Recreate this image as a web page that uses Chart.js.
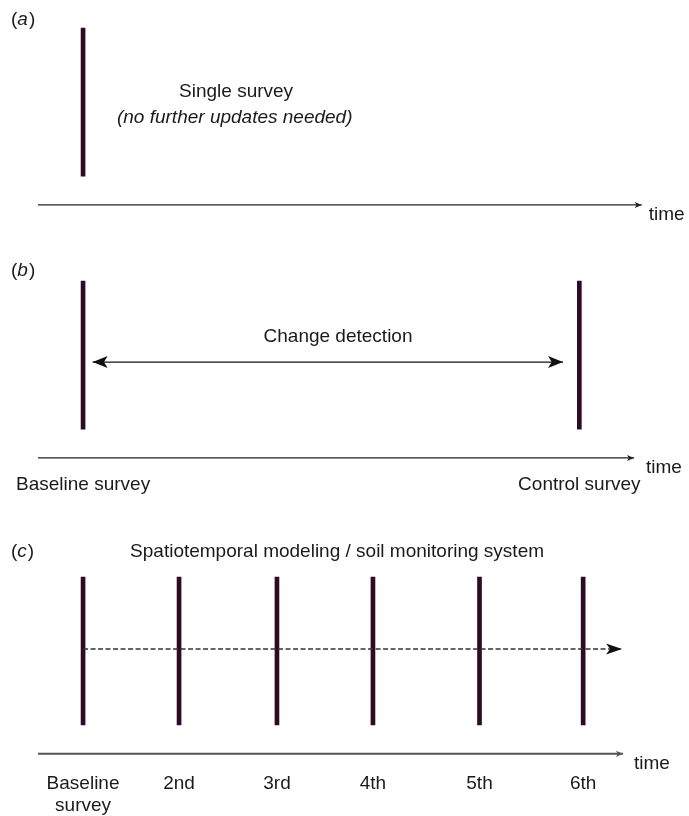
<!DOCTYPE html>
<html>
<head>
<meta charset="utf-8">
<title>Survey strategies over time</title>
<script src="https://cdn.jsdelivr.net/npm/chart.js@4.4.1/dist/chart.umd.min.js"></script>
<style>
  html, body { margin: 0; padding: 0; background: #fff; }
  #wrap { position: relative; width: 689px; height: 816px; }
</style>
</head>
<body>
<div id="wrap"><canvas id="surveyChart" width="689" height="816"></canvas></div>
<script>
// survey times, in units of one survey interval
const singleSurvey = [0];
const changeSurveys = [0, 5.17];
const changeLabels = ["Baseline survey", "Control survey"];
const monitorSurveys = [0, 1, 2.02, 3.02, 4.13, 5.21];
const monitorLabels = [["Baseline", "survey"], "2nd", "3rd", "4th", "5th", "6th"];

// time axes start at the same point, end at different arrow tips
const axisStart = -0.47;
const axisEnds = [5.82, 5.74, 5.625];
const changeSpan = [0.1, 5.0];   // double arrow in (b)
const monitorSpan = [0, 5.615];  // dashed arrow in (c)

const INK = "#1a1a1a";
const BAR = "#2c0b26";
const FONT = "'Liberation Sans', Arial, sans-serif";

// vertical layout: each survey marker is one unit tall
const panelBase = { a: 3.71, b: 2.0, c: 0 };
const axisDrop = -0.195;
const xRange = { min: -0.865, max: 6.3125 };

function surveyBars(times, base, axisID) {
  return {
    type: "bar",
    data: times.map(t => ({ x: t, y: [base, base + 1] })),
    xAxisID: axisID,
    backgroundColor: BAR,
    barThickness: 4,
    grouped: false,
    order: 1,
  };
}

function arrowLine(x0, x1, y, extra) {
  return Object.assign({
    type: "line",
    data: [{ x: x0, y: y }, { x: x1, y: y }],
    xAxisID: "x",
    borderColor: "#222",
    borderWidth: 1.3,
    pointRadius: 0,
    tension: 0,
    fill: false,
    order: 0,
  }, extra);
}

function tickAxis(times, labels, base, pad) {
  return {
    type: "linear",
    ...xRange,
    offset: false,
    position: { y: base + axisDrop },
    grid: { display: false, drawTicks: false, offset: false },
    border: { display: false },
    afterBuildTicks: s => { s.ticks = times.map(v => ({ value: v })); },
    ticks: {
      autoSkip: false,
      maxRotation: 0,
      minRotation: 0,
      padding: pad,
      color: INK,
      font: { family: FONT, size: 19, lineHeight: 1.15 },
      callback: (v, i) => labels[i],
    },
  };
}

const notes = [
  { text: "Single survey", x: 1.594, y: panelBase.a + 0.568 },
  { text: "(no further updates needed)", x: 1.58, y: panelBase.a + 0.392, italic: true },
  { text: "Change detection", x: 2.656, y: panelBase.b + 0.622 },
  { text: "Spatiotemporal modeling / soil monitoring system", x: 2.646, y: panelBase.c + 1.169 },
];
const panelTags = [
  { tag: "a", y: panelBase.a + 1.055 },
  { tag: "b", y: panelBase.b + 1.068 },
  { tag: "c", y: panelBase.c + 1.169 },
];
const timeGaps = [7, 12, 11];

function drawHead(ctx, tip, from, len, half, color) {
  const ang = Math.atan2(tip.y - from.y, tip.x - from.x);
  ctx.save();
  ctx.translate(tip.x, tip.y);
  ctx.rotate(ang);
  ctx.beginPath();
  ctx.moveTo(0, 0);
  ctx.lineTo(-len, -half);
  ctx.lineTo(-len * 0.75, 0);
  ctx.lineTo(-len, half);
  ctx.closePath();
  ctx.fillStyle = color;
  ctx.fill();
  ctx.restore();
}

const figureDecor = {
  id: "figureDecor",
  afterDatasetsDraw(chart) {
    const ctx = chart.ctx;
    const xs = chart.scales.x, ys = chart.scales.y;

    // arrowheads on the line datasets
    chart.data.datasets.forEach((ds, i) => {
      if (!ds.arrow) return;
      const pts = chart.getDatasetMeta(i).data;
      const first = pts[0], last = pts[pts.length - 1];
      const h = ds.arrow;
      if (h.end) drawHead(ctx, last, first, h.len, h.half, h.color || ds.borderColor);
      if (h.start) drawHead(ctx, first, last, h.len, h.half, h.color || ds.borderColor);
    });

    ctx.save();
    ctx.fillStyle = INK;
    ctx.textBaseline = "middle";

    ctx.textAlign = "center";
    notes.forEach(n => {
      ctx.font = (n.italic ? "italic " : "") + "19px " + FONT;
      ctx.fillText(n.text, xs.getPixelForValue(n.x), ys.getPixelForValue(n.y));
    });

    // "time" at the end of each axis
    ctx.textAlign = "left";
    ctx.font = "19px " + FONT;
    [panelBase.a, panelBase.b, panelBase.c].forEach((b, i) => {
      ctx.fillText("time", xs.getPixelForValue(axisEnds[i]) + timeGaps[i], ys.getPixelForValue(b - 0.26));
    });

    // panel tags (a) (b) (c)
    panelTags.forEach(p => {
      let x = chart.chartArea.left + 11;
      const y = ys.getPixelForValue(p.y);
      ctx.font = "19px " + FONT;
      ctx.fillText("(", x, y);
      x += ctx.measureText("(").width;
      ctx.font = "italic 19px " + FONT;
      ctx.fillText(p.tag, x, y);
      x += ctx.measureText(p.tag).width + 1;
      ctx.font = "19px " + FONT;
      ctx.fillText(")", x, y);
    });
    ctx.restore();
  },
};

const ctx = document.getElementById("surveyChart").getContext("2d");
const surveyChart = new Chart(ctx, {
  type: "bar",
  data: {
    datasets: [
      surveyBars(singleSurvey, panelBase.a, "x"),
      surveyBars(changeSurveys, panelBase.b, "xb"),
      surveyBars(monitorSurveys, panelBase.c, "xc"),
      // time axes
      arrowLine(axisStart, axisEnds[0], panelBase.a + axisDrop, { arrow: { end: true, len: 7, half: 3 } }),
      arrowLine(axisStart, axisEnds[1], panelBase.b + axisDrop, { arrow: { end: true, len: 7, half: 3 } }),
      arrowLine(axisStart, axisEnds[2], panelBase.c + axisDrop, {
        borderColor: "#555", borderWidth: 2, arrow: { end: true, len: 7, half: 3.2 },
      }),
      // change detection, both ways
      arrowLine(changeSpan[0], changeSpan[1], panelBase.b + 0.453, {
        borderColor: "#111", borderWidth: 1.3, arrow: { start: true, end: true, len: 15, half: 6 },
      }),
      // continuous monitoring
      arrowLine(monitorSpan[0], monitorSpan[1], panelBase.c + 0.514, {
        borderColor: "#333", borderWidth: 1.6, borderDash: [5, 2.5], arrow: { end: true, len: 16, half: 5.5, color: "#111" },
      }),
    ],
  },
  options: {
    responsive: false,
    devicePixelRatio: 1,
    animation: false,
    layout: { padding: 0 },
    plugins: {
      legend: { display: false },
      tooltip: { enabled: false },
    },
    scales: {
      x: { type: "linear", display: false, offset: false, ...xRange },
      xb: tickAxis(changeSurveys, changeLabels, panelBase.b, 16),
      xc: tickAxis(monitorSurveys, monitorLabels, panelBase.c, 19),
      y: { type: "linear", display: false, min: -0.615, max: 4.9 },
    },
  },
  plugins: [figureDecor],
});
</script>
</body>
</html>
